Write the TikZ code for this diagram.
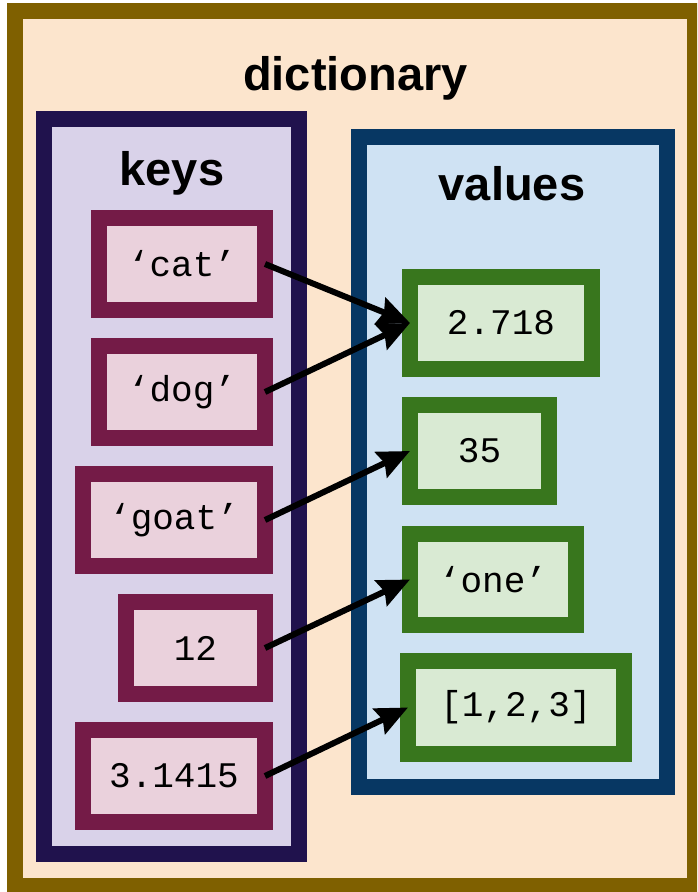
\documentclass[tikz,border=0pt]{standalone}
\usepackage{fontspec}
\setmainfont{Liberation Sans}
\newfontfamily\monofont{Liberation Mono}
\usetikzlibrary{arrows.meta}
\definecolor{outerfill}{HTML}{FCE5CD}
\definecolor{outerline}{HTML}{7F6000}
\definecolor{keysfill}{HTML}{D9D2E9}
\definecolor{keysline}{HTML}{20124D}
\definecolor{valsfill}{HTML}{CFE2F3}
\definecolor{valsline}{HTML}{073763}
\definecolor{kfill}{HTML}{EAD1DC}
\definecolor{kline}{HTML}{741B47}
\definecolor{vfill}{HTML}{D9EAD3}
\definecolor{vline}{HTML}{38761D}
\tikzset{
  panel/.style={draw, line width=16pt, line join=miter, rectangle, inner sep=0pt, outer sep=0pt},
  keybox/.style={panel, draw=kline, fill=kfill, minimum height=92pt,
    font=\monofont\fontsize{36}{40}\selectfont},
  valbox/.style={panel, draw=vline, fill=vfill, minimum height=92pt,
    font=\monofont\fontsize{36}{40}\selectfont},
  heading/.style={anchor=base, inner sep=0pt, font=\bfseries\fontsize{47}{56}\selectfont},
  link/.style={line width=6pt, -{Stealth[length=32pt,width=28pt,inset=4pt]}}
}
\begin{document}
\begin{tikzpicture}[x=1pt,y=-1pt]
\useasboundingbox (0,0) rectangle (697,892);
\begin{scope}
\clip (0,0) rectangle (697,892);
\draw[line width=16pt, line join=miter, draw=outerline, fill=outerfill] (15,11) rectangle (695,886);
\end{scope}
\node[heading] (title) at (355.5,90) {dictionary};
\node[panel, draw=keysline, fill=keysfill, minimum width=255pt, minimum height=735pt] (keys) at (171.5,486.5) {};
\node[panel, draw=valsline, fill=valsfill, minimum width=308pt, minimum height=650pt] (vals) at (513,462) {};
\node[heading] (keyslabel) at (172,185) {keys};
\node[heading] (valslabel) at (512,200) {values};
% keys
\node[keybox, minimum width=166pt] (k1) at (182,264) {‘cat’};
\node[keybox, minimum width=166pt] (k2) at (182,392) {‘dog’};
\node[keybox, minimum width=182pt] (k3) at (174,520) {‘goat’};
\node[keybox, minimum width=139pt] (k4) at (195.5,648) {12};
\node[keybox, minimum width=182pt] (k5) at (174,776) {3.1415};
% values
\node[valbox, minimum width=182pt] (v1) at (501,323) {2.718};
\node[valbox, minimum width=139pt] (v2) at (479.5,451) {35};
\node[valbox, minimum width=166pt, minimum height=91pt] (v3) at (493,579.5) {‘one’};
\node[valbox, minimum width=216pt, minimum height=93pt] (v4) at (516,707.5) {[1,2,3]};
% links
\draw[link] (k1.east) -- (v1.west);
\draw[link] (k2.east) -- (v1.west);
\draw[link] (k3.east) -- (v2.west);
\draw[link] (k4.east) -- (v3.west);
\draw[link] (k5.east) -- (v4.west);
\end{tikzpicture}
\end{document}
